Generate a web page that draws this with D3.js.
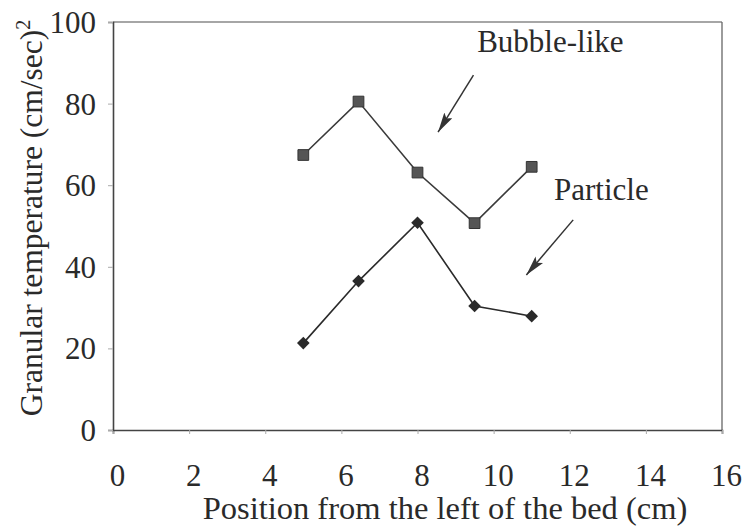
<!DOCTYPE html>
<html>
<head>
<meta charset="utf-8">
<script src="https://cdn.jsdelivr.net/npm/d3@7"></script>
<style>
  body { margin: 0; background: #fff; }
  svg text { font-family: "Liberation Serif", "Times New Roman", Times, serif; fill: #2a2a2a; }
</style>
</head>
<body>
<div id="chart"></div>
<script>
// positions across the bed (cm)
const positions = [5, 6.45, 8, 9.5, 11];
const bubbleLike = [67.4, 80.5, 63.1, 50.7, 64.5];
const particle = [21.3, 36.5, 50.8, 30.4, 27.9];
const xTicks = [0, 2, 4, 6, 8, 10, 12, 14, 16];
const yTicks = [0, 20, 40, 60, 80, 100];

// annotation labels with arrows, in data units
const notes = [
    { label: 'Bubble-like', tx: 11.49, ty: 92.6, x1: 9.47, y1: 87, x2: 8.54, y2: 73 },
    { label: 'Particle', tx: 12.83, ty: 56.4, x1: 12.09, y1: 51.5, x2: 10.86, y2: 38 }
];

const width = 742;
const height = 526;
const margin = { top: 22, right: 20, bottom: 96, left: 113 };
const serif = '"Liberation Serif", "Times New Roman", Times, serif';

const svg = d3.select('#chart').append('svg')
    .attr('width', width)
    .attr('height', height)
    .attr('font-family', serif);

const x = d3.scaleLinear().domain([0, 16]).range([margin.left, width - margin.right]);
const y = d3.scaleLinear().domain([0, 100]).range([height - margin.bottom, margin.top]);

// frame top and right
svg.append('line')
    .attr('x1', x(0)).attr('x2', x(16))
    .attr('y1', y(100)).attr('y2', y(100))
    .attr('stroke', '#888').attr('stroke-width', 1.3);
svg.append('line')
    .attr('x1', x(16)).attr('x2', x(16))
    .attr('y1', y(100)).attr('y2', y(0))
    .attr('stroke', '#666').attr('stroke-width', 1.3);

const xAxis = svg.append('g')
    .attr('transform', `translate(0,${y(0)})`)
    .call(d3.axisBottom(x).tickValues(xTicks).tickSize(4).tickPadding(30));
const yAxis = svg.append('g')
    .attr('transform', `translate(${x(0)},0)`)
    .call(d3.axisLeft(y).tickValues(yTicks).tickSize(5).tickPadding(12));

[xAxis, yAxis].forEach(g => {
    g.attr('font-family', serif).attr('font-size', 31);
    g.select('.domain').attr('stroke', '#444').attr('stroke-width', 1.6);
    g.selectAll('.tick line').attr('stroke', '#aaa');
    g.selectAll('.tick text').attr('fill', '#2a2a2a');
});
xAxis.selectAll('.tick text').attr('dx', 4);
yAxis.selectAll('.tick text').attr('dy', '0.34em');

svg.append('text')
    .attr('x', 445).attr('y', 519)
    .attr('text-anchor', 'middle')
    .attr('font-size', '32.5px')
    .text('Position from the left of the bed (cm)');

svg.append('text')
    .attr('transform', 'translate(42,218) rotate(-90)')
    .attr('text-anchor', 'middle')
    .attr('font-size', '31.5px')
    .html('Granular temperature (cm/sec)<tspan dy="-12" font-size="20px">2</tspan>');

const line = d3.line().x(d => x(d[0])).y(d => y(d[1]));
const bubbleData = positions.map((p, i) => [p, bubbleLike[i]]);
const particleData = positions.map((p, i) => [p, particle[i]]);

svg.append('path')
    .datum(bubbleData)
    .attr('d', line)
    .attr('fill', 'none')
    .attr('stroke', '#3a3a3a')
    .attr('stroke-width', 1.6);
svg.append('path')
    .datum(particleData)
    .attr('d', line)
    .attr('fill', 'none')
    .attr('stroke', '#2a2a2a')
    .attr('stroke-width', 1.6);

svg.append('g')
    .selectAll('path')
    .data(bubbleData)
    .enter()
    .append('path')
    .attr('d', d3.symbol().type(d3.symbolSquare).size(115))
    .attr('transform', d => `translate(${x(d[0])},${y(d[1])})`)
    .attr('fill', '#555')
    .attr('stroke', '#333')
    .attr('stroke-width', 1);

svg.append('g')
    .selectAll('path')
    .data(particleData)
    .enter()
    .append('path')
    .attr('d', d3.symbol().type(d3.symbolSquare).size(80))
    .attr('transform', d => `translate(${x(d[0])},${y(d[1])}) rotate(45)`)
    .attr('fill', '#2a2a2a');

svg.append('defs').append('marker')
    .attr('id', 'head')
    .attr('viewBox', '0 0 20 10')
    .attr('refX', 20).attr('refY', 5)
    .attr('markerWidth', 20).attr('markerHeight', 10)
    .attr('markerUnits', 'userSpaceOnUse')
    .attr('orient', 'auto')
    .append('path')
    .attr('d', 'M0,0 L20,5 L0,10 L4,5 Z')
    .attr('fill', '#333');

const note = svg.append('g')
    .selectAll('g')
    .data(notes)
    .enter()
    .append('g');

note.append('line')
    .attr('x1', d => x(d.x1)).attr('y1', d => y(d.y1))
    .attr('x2', d => x(d.x2)).attr('y2', d => y(d.y2))
    .attr('stroke', '#333')
    .attr('stroke-width', 1.5)
    .attr('marker-end', 'url(#head)');

note.append('text')
    .attr('x', d => x(d.tx)).attr('y', d => y(d.ty))
    .attr('text-anchor', 'middle')
    .attr('font-size', '31px')
    .text(d => d.label);
</script>
</body>
</html>
